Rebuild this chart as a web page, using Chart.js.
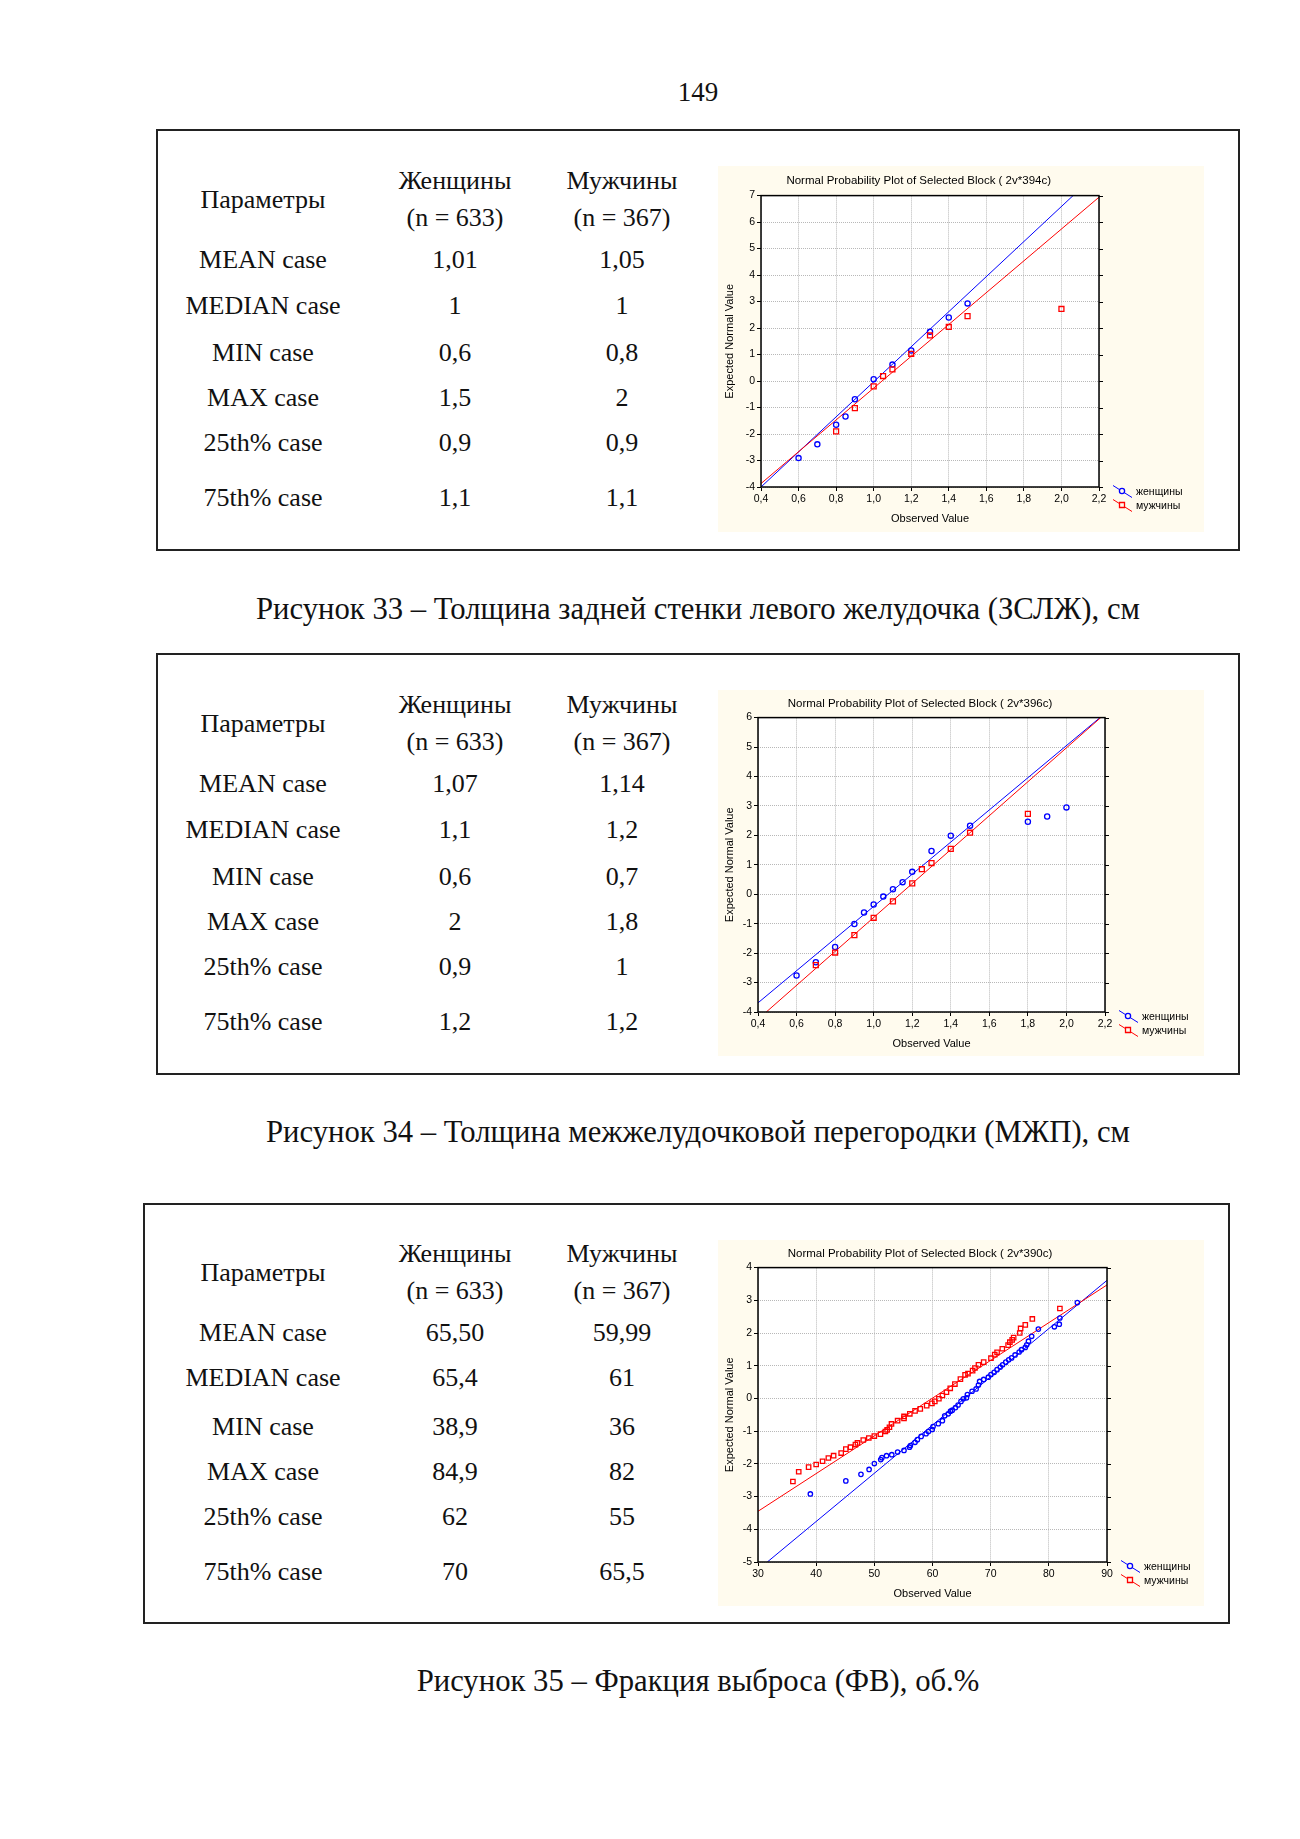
<!DOCTYPE html>
<html><head><meta charset="utf-8">
<script src="https://cdn.jsdelivr.net/npm/chart.js@4.4.1/dist/chart.umd.min.js"></script>
<style>
html,body{margin:0;padding:0;background:#fff;}
body{width:1300px;height:1839px;position:relative;overflow:hidden;font-family:"Liberation Serif","Times New Roman",serif;color:#111;}
.t{position:absolute;white-space:nowrap;transform:translate(-50%,-50%);line-height:1.2;}
.box{position:absolute;border:2px solid #222;box-sizing:border-box;}
.panel{position:absolute;width:486px;height:366px;background:#fffbee;}
.panel canvas{position:absolute;left:0;top:0;}
</style></head><body>
<script>
// ---------- DATA ----------
const pageNumber = "149";
const paramHeader = "Параметры";
const womenHeader = ["Женщины", "(n = 633)"];
const menHeader = ["Мужчины", "(n = 367)"];
const paramLabels = ["MEAN case", "MEDIAN case", "MIN case", "MAX case", "25th% case", "75th% case"];

const fig33Women = ["1,01", "1", "0,6", "1,5", "0,9", "1,1"];
const fig33Men = ["1,05", "1", "0,8", "2", "0,9", "1,1"];
const fig34Women = ["1,07", "1,1", "0,6", "2", "0,9", "1,2"];
const fig34Men = ["1,14", "1,2", "0,7", "1,8", "1", "1,2"];
const fig35Women = ["65,50", "65,4", "38,9", "84,9", "62", "70"];
const fig35Men = ["59,99", "61", "36", "82", "55", "65,5"];

const captions = [
  "Рисунок 33 – Толщина задней стенки левого желудочка (ЗСЛЖ), см",
  "Рисунок 34 – Толщина межжелудочковой перегородки (МЖП), см",
  "Рисунок 35 – Фракция выброса (ФВ), об.%"
];
const chartTitles = [
  "Normal Probability Plot of Selected Block ( 2v*394c)",
  "Normal Probability Plot of Selected Block ( 2v*396c)",
  "Normal Probability Plot of Selected Block ( 2v*390c)"
];
const seriesNames = ["женщины", "мужчины"];
const xAxisTitle = "Observed Value";
const yAxisTitle = "Expected Normal Value";

// Figure 33
const f33WomenX = [0.6, 0.7, 0.8, 0.85, 0.9, 1.0, 1.1, 1.2, 1.3, 1.4, 1.5];
const f33WomenY = [-2.91, -2.39, -1.65, -1.34, -0.69, 0.07, 0.62, 1.15, 1.86, 2.40, 2.93];
const f33MenX = [0.8, 0.9, 1.0, 1.05, 1.1, 1.2, 1.3, 1.4, 1.5, 2.0];
const f33MenY = [-1.90, -1.02, -0.20, 0.19, 0.44, 1.03, 1.72, 2.04, 2.45, 2.72];
const f33WomenLineX = [0.4, 2.062];
const f33WomenLineY = [-4, 7];
const f33MenLineX = [0.4, 2.2];
const f33MenLineY = [-3.87, 6.94];
const f33XTicks = [0.4, 2.2, 0.2];
const f33YTicks = [-4, 7, 1];

// Figure 34
const f34WomenX = [0.6, 0.7, 0.8, 0.9, 0.95, 1.0, 1.05, 1.1, 1.15, 1.2, 1.3, 1.4, 1.5, 1.8, 1.9, 2.0];
const f34WomenY = [-2.76, -2.31, -1.79, -1.01, -0.62, -0.35, -0.08, 0.17, 0.41, 0.76, 1.47, 1.99, 2.33, 2.46, 2.64, 2.95];
const f34MenX = [0.7, 0.8, 0.9, 1.0, 1.1, 1.2, 1.25, 1.3, 1.4, 1.5, 1.8];
const f34MenY = [-2.41, -1.98, -1.39, -0.80, -0.24, 0.37, 0.85, 1.06, 1.54, 2.09, 2.73];
const f34WomenLineX = [0.4, 2.174];
const f34WomenLineY = [-3.69, 6];
const f34MenLineX = [0.443, 2.178];
const f34MenLineY = [-4, 6];
const f34XTicks = [0.4, 2.2, 0.2];
const f34YTicks = [-4, 6, 1];

// Figure 35
const f35WomenX = [39.0, 45.1, 47.7, 49.1, 50.0, 51.1, 51.3, 52.1, 53.0, 54.0, 55.1, 56.05, 56.2, 57.0, 57.4, 58.05, 58.9, 59.3, 59.95, 60.1, 61.0, 61.7, 62.1, 62.7, 63.1, 63.4, 63.95, 64.4, 64.9, 65.3, 65.85, 66.0, 66.8, 67.5, 67.9, 68.1, 68.8, 69.6, 70.05, 70.6, 71.1, 71.65, 72.05, 72.6, 73.1, 73.6, 74.2, 74.9, 75.3, 75.95, 76.2, 76.5, 77.05, 78.2, 80.95, 81.8, 81.9, 84.9];
const f35WomenY = [-2.92, -2.52, -2.32, -2.17, -1.99, -1.87, -1.81, -1.75, -1.72, -1.64, -1.59, -1.49, -1.44, -1.34, -1.26, -1.16, -1.08, -1.01, -0.95, -0.86, -0.77, -0.68, -0.53, -0.47, -0.39, -0.36, -0.28, -0.20, -0.09, -0.01, 0.02, 0.12, 0.22, 0.29, 0.41, 0.52, 0.58, 0.65, 0.73, 0.80, 0.88, 0.96, 1.03, 1.11, 1.18, 1.24, 1.33, 1.42, 1.49, 1.56, 1.64, 1.75, 1.90, 2.12, 2.19, 2.27, 2.46, 2.93];
const f35MenX = [36.0, 37.0, 38.7, 40.0, 41.1, 42.1, 43.0, 44.3, 45.1, 45.9, 46.75, 47.1, 48.1, 49.05, 50.0, 51.05, 51.9, 52.2, 52.6, 52.95, 54.0, 55.1, 55.1, 56.1, 57.0, 57.9, 59.0, 59.9, 60.4, 61.1, 61.7, 62.4, 63.05, 63.85, 64.8, 65.6, 66.1, 66.9, 67.3, 67.9, 68.8, 70.05, 70.7, 71.1, 72.0, 73.0, 73.3, 73.7, 73.95, 75.0, 75.15, 75.95, 77.16, 81.9];
const f35MenY = [-2.54, -2.24, -2.10, -2.02, -1.92, -1.82, -1.75, -1.67, -1.55, -1.49, -1.41, -1.36, -1.27, -1.21, -1.15, -1.09, -1.01, -0.96, -0.88, -0.78, -0.68, -0.61, -0.55, -0.47, -0.38, -0.32, -0.22, -0.15, -0.09, -0.01, 0.09, 0.19, 0.31, 0.44, 0.59, 0.72, 0.76, 0.85, 0.93, 1.03, 1.11, 1.23, 1.34, 1.41, 1.52, 1.63, 1.72, 1.79, 1.86, 2.00, 2.14, 2.25, 2.43, 2.75];
const f35WomenLineX = [31.6, 90];
const f35WomenLineY = [-5, 3.61];
const f35MenLineX = [30, 90];
const f35MenLineY = [-3.45, 3.47];
const f35XTicks = [30, 90, 10];
const f35YTicks = [-5, 4, 1];

// ---------- LAYOUT ----------
const PANEL_BG = "#fffbee";
const TABLE_FONT = 26;
const CAPTION_FONT = 30.7;
const COLS = [263, 455, 622];
const blocks = [
  {box:[156,129,1240,551], cols:COLS, hdr:[180.5,217.5], param:199.5, rows:[260,306,353,398,443,498], women:fig33Women, men:fig33Men, capY:609,
   chart:{left:718, top:166, padL:20.4, yw:22.6, xh:45, padR:105, tt:8.4, tb:7.4, xtb:6.4, ytt:-14.7, cr:2.6, sr:3.5,
     d:{wx:f33WomenX, wy:f33WomenY, mx:f33MenX, my:f33MenY, wlx:f33WomenLineX, wly:f33WomenLineY, mlx:f33MenLineX, mly:f33MenLineY, xt:f33XTicks, yt:f33YTicks, dec:true}}},
  {box:[156,653,1240,1075], cols:COLS, hdr:[704.5,741.5], param:723.5, rows:[784,830,877,922,967,1022], women:fig34Women, men:fig34Men, capY:1132,
   chart:{left:718, top:690, padL:17, yw:23, xh:44, padR:99, tt:7.4, tb:6.4, xtb:5.4, ytt:-11.9, cr:2.6, sr:3.5,
     d:{wx:f34WomenX, wy:f34WomenY, mx:f34MenX, my:f34MenY, wlx:f34WomenLineX, wly:f34WomenLineY, mlx:f34MenLineX, mly:f34MenLineY, xt:f34XTicks, yt:f34YTicks, dec:true}}},
  {box:[143,1203,1230,1624], cols:COLS, hdr:[1254.4,1290.7], param:1272.7, rows:[1333.3,1378,1426.7,1471.7,1516.7,1571.7], women:fig35Women, men:fig35Men, capY:1681,
   chart:{left:718, top:1240, padL:15, yw:25, xh:44, padR:97, tt:7.4, tb:6.4, xtb:5.4, ytt:-9.3, cr:2.2, sr:3.1,
     d:{wx:f35WomenX, wy:f35WomenY, mx:f35MenX, my:f35MenY, wlx:f35WomenLineX, wly:f35WomenLineY, mlx:f35MenLineX, mly:f35MenLineY, xt:f35XTicks, yt:f35YTicks, dec:false}}}
];

function addText(txt, x, y, size) {
  const d = document.createElement('div');
  d.className = 't';
  d.style.left = x + 'px'; d.style.top = y + 'px'; d.style.fontSize = size + 'px';
  d.textContent = txt;
  document.body.appendChild(d);
}
function zip(xs, ys) { return xs.map((x, i) => ({x: x, y: ys[i]})); }

addText(pageNumber, 698, 92, 27);

const SANS = "'Liberation Sans', Arial, sans-serif";

const bgPlugin = {
  id: 'plotBg',
  beforeDraw(chart) {
    const {ctx, chartArea: a} = chart;
    ctx.save(); ctx.fillStyle = '#ffffff';
    ctx.fillRect(a.left, a.top, a.right - a.left, a.bottom - a.top);
    ctx.restore();
  }
};
const framePlugin = {
  id: 'frame',
  afterDatasetsDraw(chart) {
    const {ctx, chartArea: a} = chart;
    ctx.save();
    ctx.strokeStyle = '#000'; ctx.lineWidth = 1.5;
    ctx.strokeRect(a.left, a.top, a.right - a.left, a.bottom - a.top);
    ctx.lineWidth = 1;
    const ys = chart.scales.y;
    ys.ticks.forEach(t => {
      const p = Math.round(ys.getPixelForValue(t.value)) + 0.5;
      ctx.beginPath(); ctx.moveTo(a.right, p); ctx.lineTo(a.right + 4, p); ctx.stroke();
    });
    ctx.restore();
  }
};
const legendPlugin = {
  id: 'qqLegend',
  afterDraw(chart) {
    const {ctx, chartArea: a} = chart;
    const ds = chart.data.datasets;
    [0, 1].forEach(i => {
      const x0 = a.right + 14, y0 = a.bottom - 1.5 + i * 14;
      const col = ds[i].borderColor;
      ctx.save();
      ctx.strokeStyle = col; ctx.lineWidth = 1;
      ctx.beginPath(); ctx.moveTo(x0, y0); ctx.lineTo(x0 + 19, y0 + 12); ctx.stroke();
      ctx.fillStyle = PANEL_BG; ctx.lineWidth = 1.3;
      ctx.beginPath();
      if (i === 0) ctx.arc(x0 + 9, y0 + 5.5, 2.6, 0, Math.PI * 2);
      else ctx.rect(x0 + 9 - 2.5, y0 + 5.5 - 2.5, 5, 5);
      ctx.fill(); ctx.stroke();
      ctx.fillStyle = '#000'; ctx.font = "10.5px " + SANS;
      ctx.textBaseline = 'middle'; ctx.textAlign = 'left';
      ctx.fillText(ds[i].label, a.right + 37, a.bottom + 5 + i * 14.5);
      ctx.restore();
    });
  }
};

blocks.forEach((b, bi) => {
  const bx = document.createElement('div');
  bx.className = 'box';
  bx.style.left = b.box[0] + 'px'; bx.style.top = b.box[1] + 'px';
  bx.style.width = (b.box[2] - b.box[0]) + 'px'; bx.style.height = (b.box[3] - b.box[1]) + 'px';
  document.body.appendChild(bx);

  addText(paramHeader, b.cols[0], b.param, TABLE_FONT);
  addText(womenHeader[0], b.cols[1], b.hdr[0], TABLE_FONT);
  addText(womenHeader[1], b.cols[1], b.hdr[1], TABLE_FONT);
  addText(menHeader[0], b.cols[2], b.hdr[0], TABLE_FONT);
  addText(menHeader[1], b.cols[2], b.hdr[1], TABLE_FONT);
  paramLabels.forEach((p, i) => {
    addText(p, b.cols[0], b.rows[i], TABLE_FONT);
    addText(b.women[i], b.cols[1], b.rows[i], TABLE_FONT);
    addText(b.men[i], b.cols[2], b.rows[i], TABLE_FONT);
  });
  addText(captions[bi], 698, b.capY, CAPTION_FONT);

  const c = b.chart, d = c.d;
  const panel = document.createElement('div');
  panel.className = 'panel';
  panel.style.left = c.left + 'px'; panel.style.top = c.top + 'px';
  const cv = document.createElement('canvas');
  cv.width = 486; cv.height = 366;
  cv.style.width = '486px'; cv.style.height = '366px';
  panel.appendChild(cv);
  document.body.appendChild(panel);

  const fmt = d.dec ? (v => Number(v).toFixed(1).replace('.', ',')) : (v => String(Math.round(v)));
  const tickFont = {family: SANS, size: 10.5};
  new Chart(cv, {
    type: 'scatter',
    data: {datasets: [
      {label: seriesNames[0], data: zip(d.wx, d.wy), pointStyle: 'circle', pointRadius: c.cr, pointBorderWidth: 1.3,
       borderColor: '#0000ff', backgroundColor: 'rgba(0,0,0,0)', pointBackgroundColor: 'rgba(0,0,0,0)', showLine: false, order: 1},
      {label: seriesNames[1], data: zip(d.mx, d.my), pointStyle: 'rect', pointRadius: c.sr, pointBorderWidth: 1.3,
       borderColor: '#ff0000', backgroundColor: 'rgba(0,0,0,0)', pointBackgroundColor: 'rgba(0,0,0,0)', showLine: false, order: 0},
      {label: seriesNames[0] + ' fit', data: zip(d.wlx, d.wly), showLine: true, pointRadius: 0, borderColor: '#0000ff', borderWidth: 1, order: 3},
      {label: seriesNames[1] + ' fit', data: zip(d.mlx, d.mly), showLine: true, pointRadius: 0, borderColor: '#ff0000', borderWidth: 1, order: 2}
    ]},
    options: {
      responsive: false, animation: false, devicePixelRatio: 1,
      layout: {padding: {left: c.padL, right: c.padR, top: 0, bottom: 0}},
      plugins: {
        legend: {display: false}, tooltip: {enabled: false},
        title: {display: true, text: chartTitles[bi], color: '#000', font: {family: SANS, size: 11.5, weight: 'normal'},
                padding: {top: c.tt, bottom: c.tb}}
      },
      scales: {
        x: {type: 'linear', min: d.xt[0], max: d.xt[1],
            ticks: {stepSize: d.xt[2], callback: fmt, color: '#000', font: tickFont, padding: 2, maxRotation: 0, autoSkip: false},
            grid: {color: '#b8b8b8', lineWidth: 1, tickColor: '#000', tickLength: 4},
            border: {display: false, dash: [1, 1]},
            title: {display: true, text: xAxisTitle, color: '#000', font: {family: SANS, size: 11}, padding: {top: 0, bottom: c.xtb}},
            afterFit: s => { s.height = c.xh; }},
        y: {type: 'linear', min: d.yt[0], max: d.yt[1],
            ticks: {stepSize: d.yt[2], callback: v => String(Math.round(v)), color: '#000', font: tickFont, padding: 2, autoSkip: false},
            grid: {color: '#b8b8b8', lineWidth: 1, tickColor: '#000', tickLength: 4},
            border: {display: false, dash: [1, 1]},
            title: {display: true, text: yAxisTitle, color: '#000', font: {family: SANS, size: 11}, padding: {top: c.ytt, bottom: 0}},
            afterFit: s => { s.width = c.yw; }}
      }
    },
    plugins: [bgPlugin, framePlugin, legendPlugin]
  });
});
</script>
</body></html>
